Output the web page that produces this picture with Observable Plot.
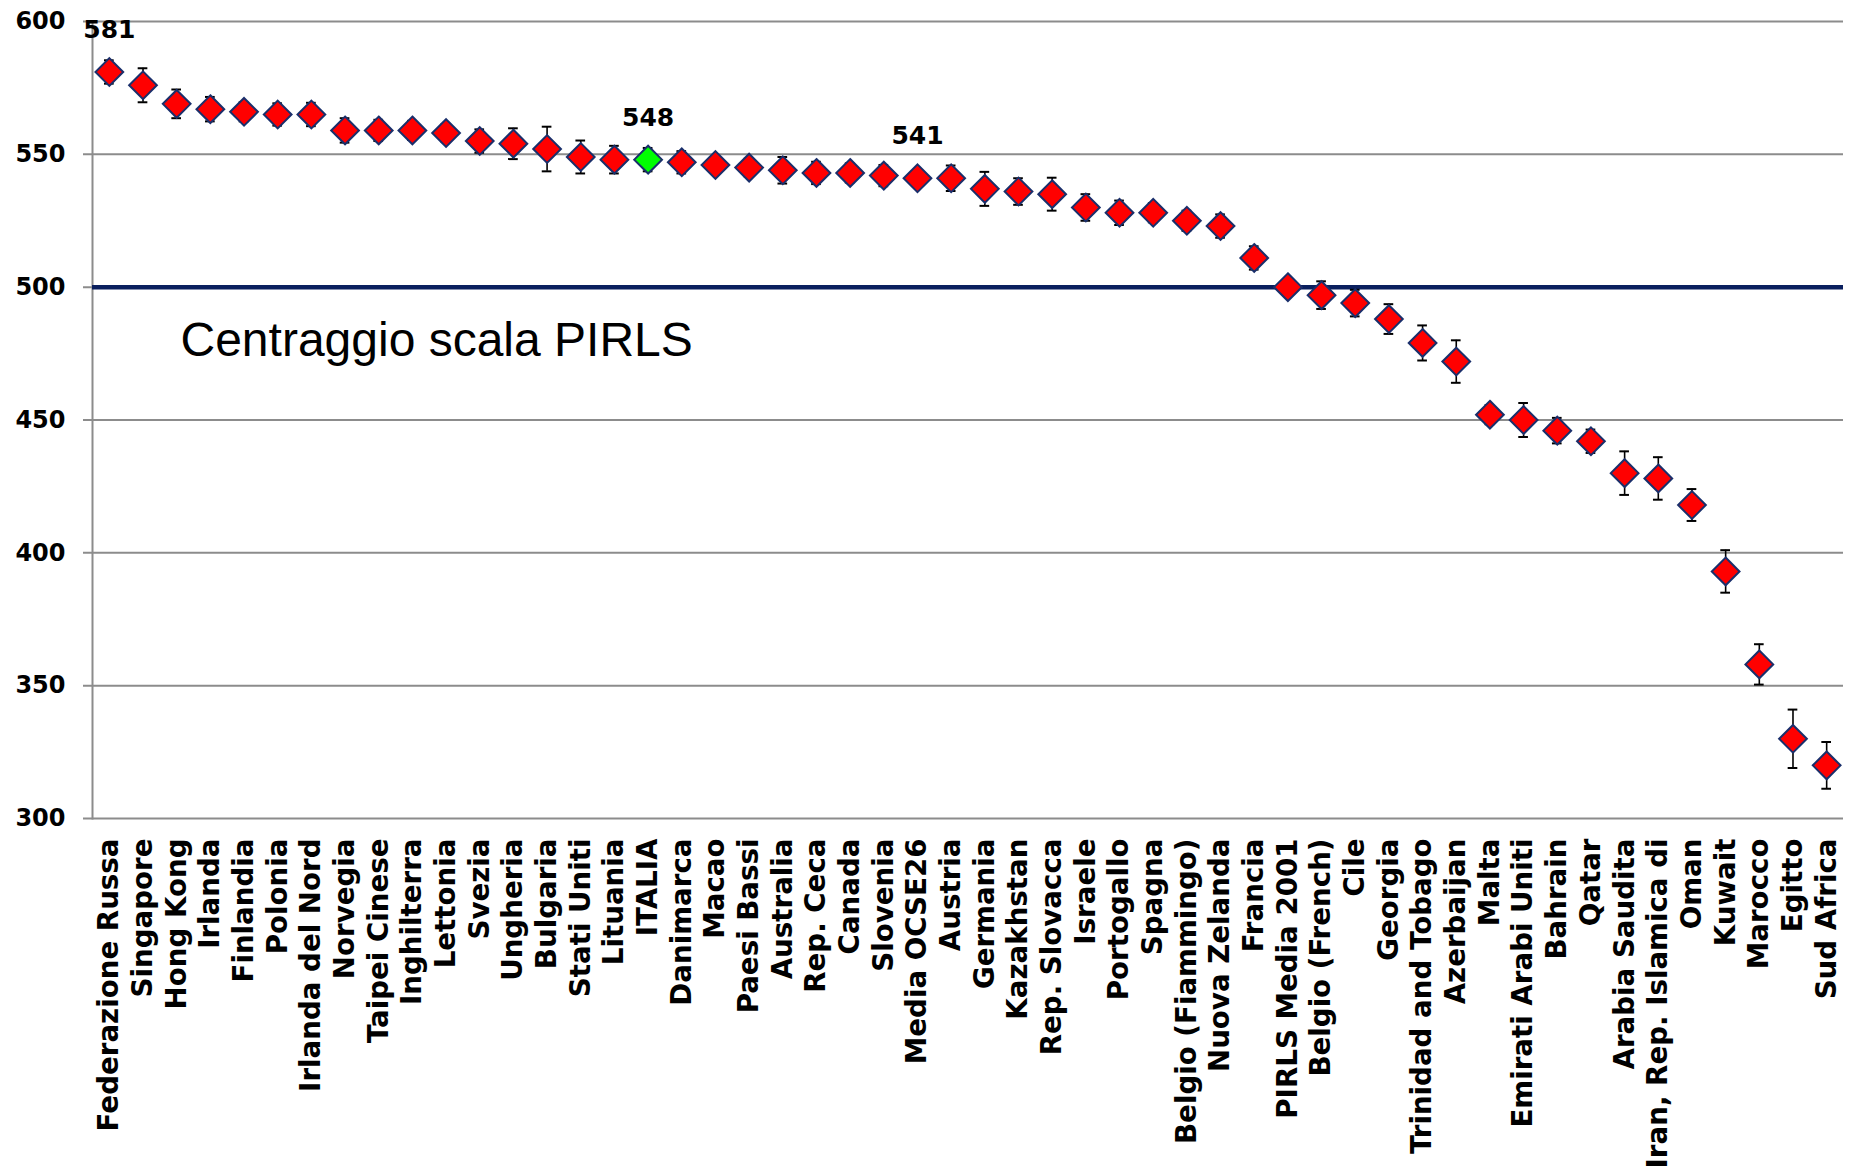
<!DOCTYPE html>
<html>
<head>
<meta charset="utf-8">
<script src="https://cdn.jsdelivr.net/npm/d3@7"></script>
<script src="https://cdn.jsdelivr.net/npm/@observablehq/plot@0.6"></script>
<style>
  html, body { margin: 0; padding: 0; background: #fff; }
  #chart svg { display: block; }
</style>
</head>
<body>
<div id="chart"></div>
<script>
const countries = [
  "Federazione Russa", "Singapore", "Hong Kong", "Irlanda", "Finlandia", "Polonia",
  "Irlanda del Nord", "Norvegia", "Taipei Cinese", "Inghilterra", "Lettonia", "Svezia",
  "Ungheria", "Bulgaria", "Stati Uniti", "Lituania", "ITALIA", "Danimarca", "Macao",
  "Paesi Bassi", "Australia", "Rep. Ceca", "Canada", "Slovenia", "Media OCSE26",
  "Austria", "Germania", "Kazakhstan", "Rep. Slovacca", "Israele", "Portogallo",
  "Spagna", "Belgio (Fiammingo)", "Nuova Zelanda", "Francia", "PIRLS Media 2001",
  "Belgio (French)", "Cile", "Georgia", "Trinidad and Tobago", "Azerbaijan", "Malta",
  "Emirati Arabi Uniti", "Bahrain", "Qatar", "Arabia Saudita", "Iran, Rep. Islamica di",
  "Oman", "Kuwait", "Marocco", "Egitto", "Sud Africa"
];
const scores = [
  581, 576, 569, 567, 566, 565,
  565, 559, 559, 559, 558, 555,
  554, 552, 549, 548, 548, 547, 546,
  545, 544, 543, 543, 542, 541,
  541, 537, 536, 535, 530, 528,
  528, 525, 523, 511, 500,
  497, 494, 488, 479, 472, 452,
  450, 446, 442, 430, 428,
  418, 393, 358, 330, 320
];
// half-length of the error bars (score points)
const errors = [
  4.4, 6.4, 5.4, 4.6, 3.6, 4.2,
  4.4, 4.6, 4.0, 3.6, 3.4, 4.4,
  5.8, 8.4, 6.2, 5.2, 4.4, 4.2, 2.0,
  3.4, 5.0, 4.2, 3.6, 4.0, 0,
  4.8, 6.4, 5.0, 6.2, 5.0, 4.6,
  3.6, 3.8, 4.4, 4.4, 0,
  5.2, 5.0, 5.6, 6.6, 8.0, 3.6,
  6.4, 4.8, 4.4, 8.2, 8.0,
  6.0, 8.0, 7.6, 11.0, 8.8
];
const labeledCountries = ["Federazione Russa", "ITALIA", "Media OCSE26"];
const highlightCountry = "ITALIA";
const yTicks = [300, 350, 400, 450, 500, 550, 600];
const referenceValue = 500;
const referenceLabel = "Centraggio scala PIRLS";
const referenceLabelValue = 480;

const data = countries.map((c, i) => ({country: c, score: scores[i], err: errors[i]}));
const withErr = data.filter(d => d.err > 0);

const boldFont = "DejaVu Sans";

const chart = Plot.plot({
  width: 1850,
  height: 1170,
  marginLeft: 92,
  marginRight: 7,
  marginTop: 21,
  marginBottom: 352,
  style: {background: "#fff", color: "#000", overflow: "visible"},
  x: {type: "band", domain: countries, padding: 0, label: null},
  y: {domain: [300, 600], label: null},
  color: {type: "identity"},
  marks: [
    Plot.ruleY(yTicks, {stroke: "#8c8c8c", strokeWidth: 2, insetLeft: -9}),
    Plot.frame({anchor: "left", stroke: "#8c8c8c", strokeWidth: 2}),
    Plot.ruleY([referenceValue], {stroke: "#0a1f5e", strokeWidth: 4.5}),
    Plot.axisY({
      ticks: yTicks, tickSize: 0, tickPadding: 27, tickFormat: d => String(d),
      fontSize: 24, fontWeight: "bold", fontFamily: boldFont, fill: "#000", label: null
    }),
    Plot.axisX({
      tickRotate: -90, tickSize: 0, tickPadding: 20,
      fontSize: 27.7, fontWeight: "bold", fontFamily: boldFont, fill: "#000", label: null
    }),
    Plot.ruleX(withErr, {x: "country", y1: d => d.score - d.err, y2: d => d.score + d.err, stroke: "#000", strokeWidth: 1.6}),
    Plot.tickY(withErr, {x: "country", y: d => d.score - d.err, insetLeft: 12, insetRight: 12, stroke: "#000", strokeWidth: 2}),
    Plot.tickY(withErr, {x: "country", y: d => d.score + d.err, insetLeft: 12, insetRight: 12, stroke: "#000", strokeWidth: 2}),
    Plot.dot(data, {
      x: "country", y: "score", symbol: "diamond2", r: 12.5,
      fill: d => d.country === highlightCountry ? "#00ff00" : "#ff0000",
      stroke: "#1a2f6b", strokeWidth: 2
    }),
    Plot.text(data.filter(d => labeledCountries.includes(d.country)), {
      x: "country", y: "score", text: d => String(d.score), dy: -42,
      fontSize: 25, fontWeight: "bold", fontFamily: boldFont, fill: "#000"
    }),
    Plot.text([referenceLabel], {
      y: () => referenceLabelValue, text: d => d, frameAnchor: "left", textAnchor: "start",
      dx: 88, fontSize: 48, fontFamily: "Liberation Sans", fill: "#000"
    })
  ]
});
document.getElementById("chart").appendChild(chart);
</script>
</body>
</html>
